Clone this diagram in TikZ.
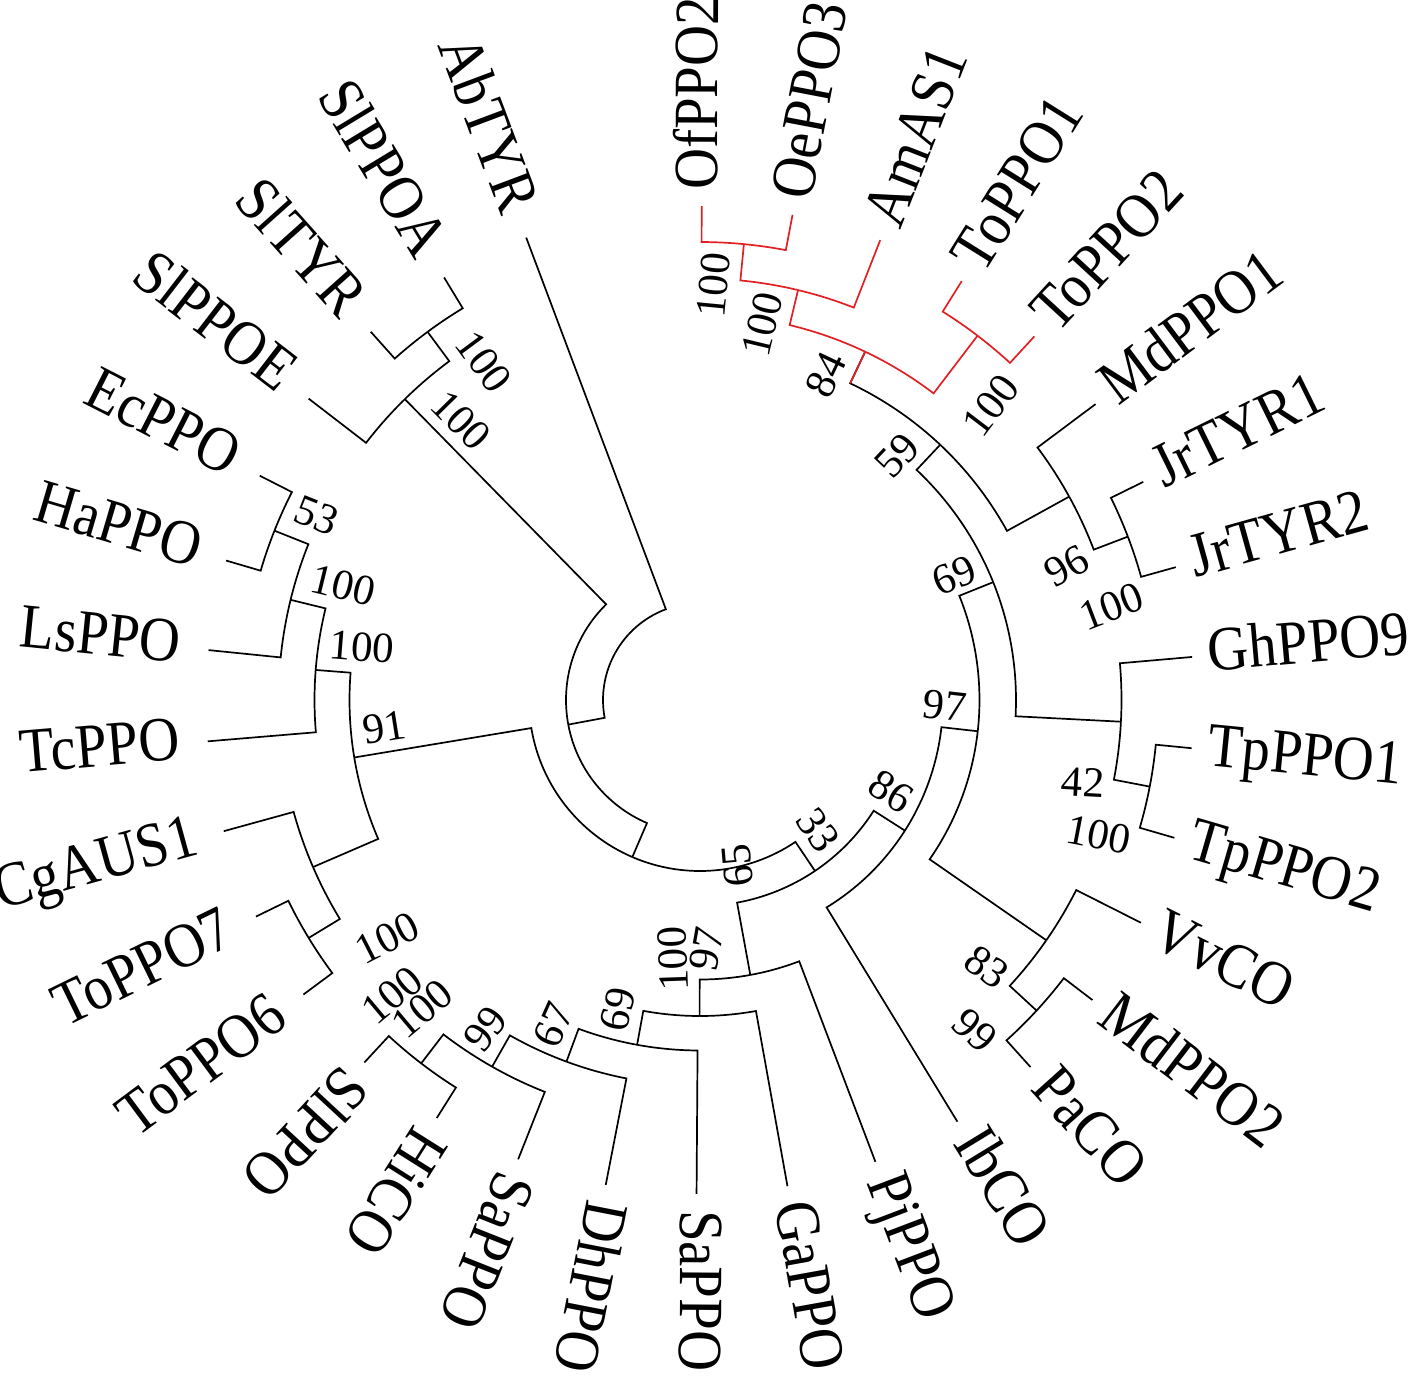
\documentclass[tikz,border=0pt]{standalone}
\usepackage{fontspec}
\setmainfont{Liberation Serif}
\newfontfamily\taxonfont{Liberation Serif}[FakeStretch=0.9]

\definecolor{cladered}{RGB}{225,32,36}

\newcommand{\tpt}[3]{%
  \coordinate (#1) at (#2:#3pt);
  \expandafter\def\csname ang-#1\endcsname{#2}%
  \expandafter\def\csname rad-#1\endcsname{#3}}
\newcommand{\taxon}[3]{%
  \tpt{#1}{#2}{247}
  \node[taxonlabel, anchor=west, rotate=#2] (#1-name) at (#2:255pt) {#3};}
\newcommand{\taxonr}[3]{%
  \tpt{#1}{#2}{247}
  \node[taxonlabel, anchor=east, rotate=#2-180] (#1-name) at (#2:261pt) {#3};}
\newcommand{\twig}[3][]{%
  \draw[limb,#1] (\csname ang-#2\endcsname:\csname rad-#2\endcsname pt)
    arc[start angle=\csname ang-#2\endcsname, end angle=\csname ang-#3\endcsname,
        radius=\csname rad-#2\endcsname pt] -- (#3);}
\newcommand{\stemup}[3][]{%
  \draw[limb,#1] (\csname ang-#3\endcsname:\csname rad-#2\endcsname pt) -- (#3);}
\newcommand{\support}[5]{%
  \node[bootlabel, rotate=#4] (#1) at (#2:#3pt) {#5};}

\begin{document}
\begin{tikzpicture}[
    limb/.style={line width=0.85pt, line join=miter},
    clade/.style={draw=cladered},
    taxonlabel/.style={font=\taxonfont\fontsize{31.5}{31.5}\selectfont,
      inner sep=0pt, text height=15.75pt, text depth=0pt},
    bootlabel/.style={font=\fontsize{21.5}{21.5}\selectfont,
      inner sep=0pt, text height=14.6pt, text depth=0pt},
  ]
  \useasboundingbox (-350pt,-339pt) rectangle (358.5pt,350pt);

  \taxonr{AbTYR}{110.6}{AbTYR}
  \taxonr{SlPPOA}{121.2}{SlPPOA}
  \taxonr{SlTYR}{131.8}{SlTYR}
  \taxonr{SlPPOE}{142.4}{SlPPOE}
  \taxonr{EcPPO}{153.0}{EcPPO}
  \taxonr{HaPPO}{163.6}{HaPPO}
  \taxonr{LsPPO}{174.2}{LsPPO}
  \taxonr{TcPPO}{184.8}{TcPPO}
  \taxonr{CgAUS1}{195.4}{CgAUS1}
  \taxonr{ToPPO7}{206.0}{ToPPO7}
  \taxonr{ToPPO6}{216.6}{ToPPO6}
  \taxon{SlPPO}{227.2}{SlPPO}
  \taxon{HiCO}{237.8}{HiCO}
  \taxon{SaPPO1}{248.4}{SaPPO}
  \taxon{DhPPO}{259.0}{DhPPO}
  \taxon{SaPPO2}{269.6}{SaPPO}
  \taxon{GaPPO}{280.2}{GaPPO}
  \taxon{PjPPO}{290.8}{PjPPO}
  \taxon{IbCO}{301.4}{IbCO}
  \taxon{PaCO}{312.0}{PaCO}
  \taxon{MdPPO2}{322.6}{MdPPO2}
  \taxon{VvCO}{333.2}{VvCO}
  \taxon{TpPPO2}{343.8}{TpPPO2}
  \taxon{TpPPO1}{354.4}{TpPPO1}
  \taxon{GhPPO9}{365.0}{GhPPO9}
  \taxon{JrTYR2}{375.6}{JrTYR2}
  \taxon{JrTYR1}{386.2}{JrTYR1}
  \taxon{MdPPO1}{396.8}{MdPPO1}
  \taxon{ToPPO2}{407.4}{ToPPO2}
  \taxon{ToPPO1}{418.0}{ToPPO1}
  \taxon{AmAS1}{428.6}{AmAS1}
  \taxon{OePPO3}{439.2}{OePPO3}
  \taxon{OfPPO2}{449.8}{OfPPO2}

  \tpt{R}{150.59}{48.5}
  \tpt{X}{190.57}{67}
  \tpt{Y}{246.69}{85.5}
  \tpt{Z}{303.93}{103}
  \tpt{W}{327.49}{121.5}
  \tpt{V}{353.58}{139.75}
  \tpt{F}{280.37}{139.75}
  \tpt{E}{269.93}{158}
  \tpt{n69}{381.9}{158}
  \tpt{D}{259.66}{175.25}
  \tpt{P0}{189.44}{175.25}
  \tpt{n59}{406.74}{175.25}
  \tpt{C}{249.73}{192.75}
  \tpt{P1}{175.53}{192.75}
  \tpt{N3}{424.63}{192.75}
  \tpt{B}{240.45}{210.75}
  \tpt{P2}{166.25}{210.75}
  \tpt{P4}{203.35}{210.75}
  \tpt{S2}{134.45}{210.75}
  \tpt{n83}{325.25}{210.75}
  \tpt{G}{357.05}{210.75}
  \tpt{M}{388.85}{210.75}
  \tpt{N2}{436.55}{210.75}
  \tpt{A}{232.5}{229}
  \tpt{P3}{158.3}{229}
  \tpt{P5}{211.3}{229}
  \tpt{S1}{126.5}{229}
  \tpt{n99}{317.3}{229}
  \tpt{T}{349.1}{229}
  \tpt{J}{380.9}{229}
  \tpt{N4}{412.7}{229}
  \tpt{N1}{444.5}{229}

  \twig{R}{AbTYR} \twig{R}{X}
  \twig{X}{S2} \twig{X}{Y}
  \twig{S2}{S1} \twig{S2}{SlPPOE}
  \twig{S1}{SlPPOA} \twig{S1}{SlTYR}
  \twig{Y}{P0} \twig{Y}{Z}
  \twig{P0}{P1} \twig{P0}{P4}
  \twig{P1}{P2} \twig{P1}{TcPPO}
  \twig{P2}{P3} \twig{P2}{LsPPO}
  \twig{P3}{EcPPO} \twig{P3}{HaPPO}
  \twig{P4}{CgAUS1} \twig{P4}{P5}
  \twig{P5}{ToPPO7} \twig{P5}{ToPPO6}
  \twig{Z}{F} \twig{Z}{W}
  \twig{F}{E} \twig{F}{PjPPO}
  \twig{E}{D} \twig{E}{GaPPO}
  \twig{D}{C} \twig{D}{SaPPO2}
  \twig{C}{B} \twig{C}{DhPPO}
  \twig{B}{A} \twig{B}{SaPPO1}
  \twig{A}{SlPPO} \twig{A}{HiCO}
  \twig{W}{IbCO} \twig{W}{V}
  \twig{V}{n83} \twig{V}{n69}
  \twig{n83}{VvCO} \twig{n83}{n99}
  \twig{n99}{MdPPO2} \twig{n99}{PaCO}
  \twig{n69}{G} \twig{n69}{n59}
  \twig{G}{T} \twig{G}{GhPPO9}
  \twig{T}{TpPPO2} \twig{T}{TpPPO1}
  \twig{n59}{M} \twig{n59}{N3}
  \twig{M}{J} \twig{M}{MdPPO1}
  \twig{J}{JrTYR2} \twig{J}{JrTYR1}

  \stemup[clade]{n59}{N3}
  \twig[clade]{N3}{N4} \twig[clade]{N3}{N2}
  \twig[clade]{N4}{ToPPO2} \twig[clade]{N4}{ToPPO1}
  \twig[clade]{N2}{AmAS1} \twig[clade]{N2}{N1}
  \twig[clade]{N1}{OePPO3} \twig[clade]{N1}{OfPPO2}

  \support{bs-N1}{88.2}{207.5}{84.5}{100}
  \support{bs-N2}{80.6}{190.5}{76.5}{100}
  \support{bs-N3}{68.9}{174.5}{64.6}{84}
  \support{bs-N4}{45.5}{207}{52.7}{100}
  \support{bs-n59}{51.2}{157}{46.7}{59}
  \support{bs-M}{20.2}{195}{28.8}{96}
  \support{bs-J}{12.9}{210.8}{20.9}{100}
  \support{bs-n69}{26.2}{141.5}{21.9}{69}
  \support{bs-G}{-12.1}{195.8}{-3}{42}
  \support{bs-T}{-18.6}{210.5}{-10.9}{100}
  \support{bs-V}{-1.2}{122.5}{-6.4}{97}
  \support{bs-n83}{-42.9}{196}{-34.7}{83}
  \support{bs-n99}{-50.2}{214.8}{-42.7}{99}
  \support{bs-W}{-25.5}{105.8}{-32.5}{86}
  \support{bs-Z}{-47.5}{88}{-56.1}{33}
  \support{bs-Y}{-77.3}{85}{95}{65}
  \support{bs-F}{271.3}{124.5}{80}{97}
  \support{bs-E}{264}{130.2}{92}{100}
  \support{bs-D}{255}{160}{77}{69}
  \support{bs-C}{245.7}{178.2}{66}{67}
  \support{bs-B}{236.8}{196.5}{52}{99}
  \support{bs-A}{228}{207.5}{40}{100}
  \support{bs-P4}{223.7}{213.4}{40}{100}
  \support{bs-P5}{217.2}{196.5}{27}{100}
  \support{bs-P0}{184.9}{158.5}{9}{91}
  \support{bs-P1}{171}{171}{-4.5}{100}
  \support{bs-P2}{162.1}{187.5}{-13.7}{100}
  \support{bs-P3}{154.2}{212.8}{-21.7}{53}
  \support{bs-S2}{130.4}{183.9}{-45.5}{100}
  \support{bs-S1}{122.5}{200.8}{-53.5}{100}
\end{tikzpicture}
\end{document}
